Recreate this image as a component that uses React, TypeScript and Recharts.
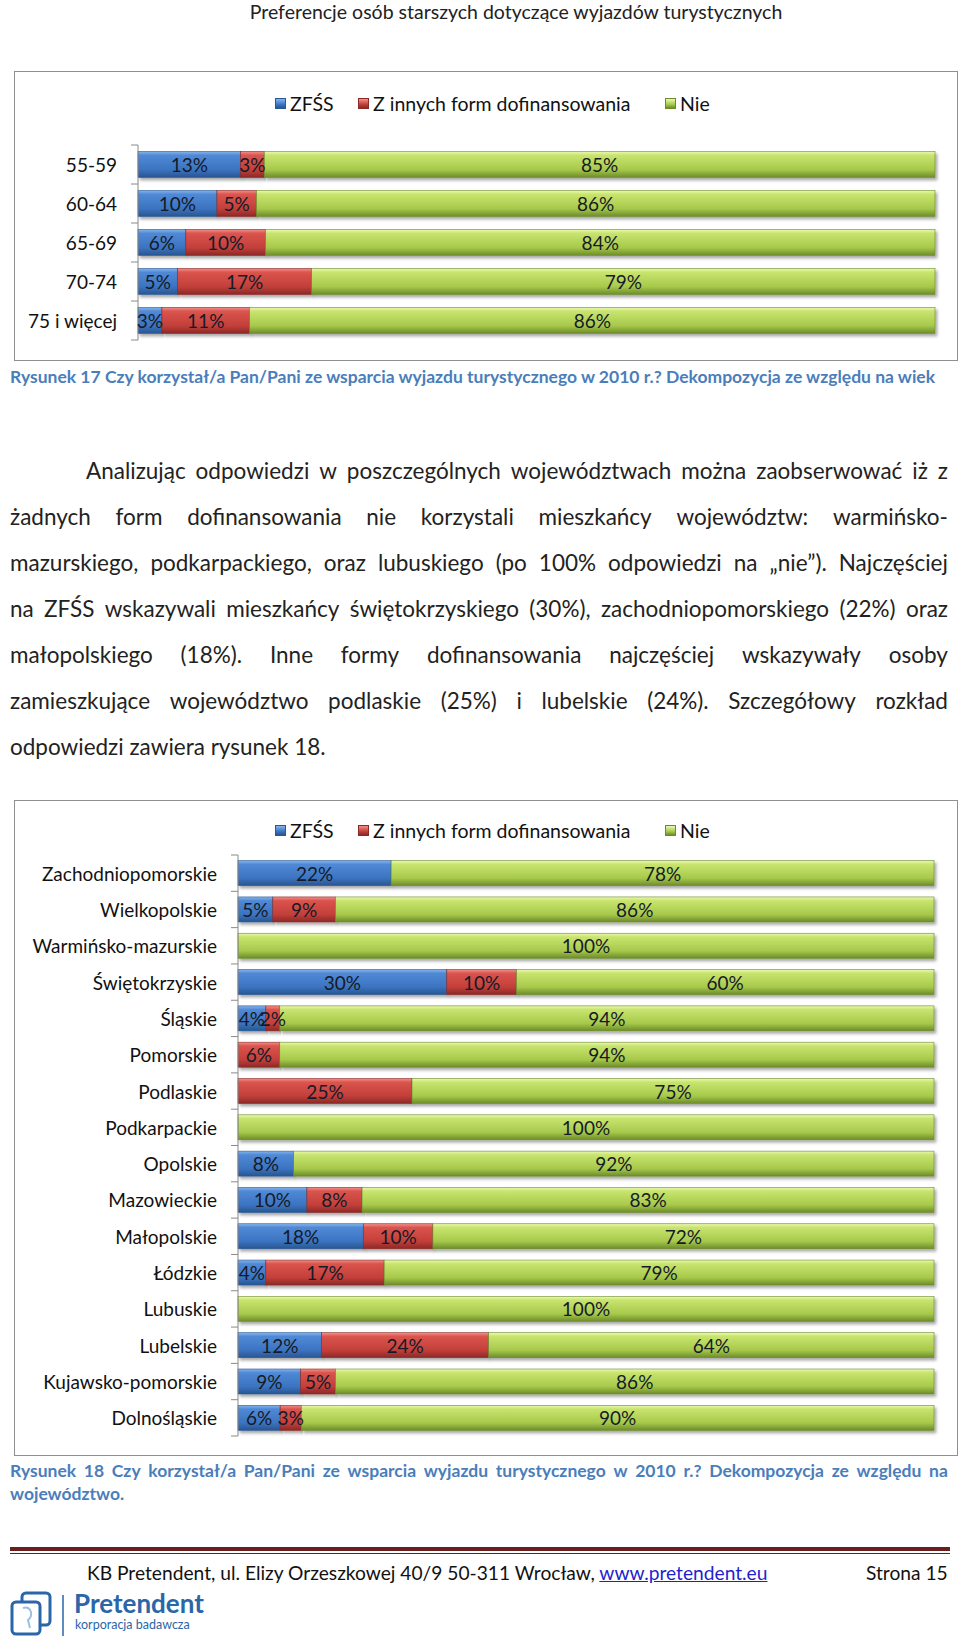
import React from "react";
import { Bar, BarChart, LabelList, XAxis, YAxis } from "recharts";

const FONT = "Lato, 'Open Sans', sans-serif";

const SERIES = ["ZFŚS", "Z innych form dofinansowania", "Nie"];

// Rysunek 17 – age groups
const AGE_GROUPS = ["55-59", "60-64", "65-69", "70-74", "75 i więcej"];
const AGE_ZFSS = [13, 10, 6, 5, 3];
const AGE_OTHER = [3, 5, 10, 17, 11];
const AGE_NO = [85, 86, 84, 79, 86];

// Rysunek 18 – regions
const REGIONS = [
  "Zachodniopomorskie",
  "Wielkopolskie",
  "Warmińsko-mazurskie",
  "Świętokrzyskie",
  "Śląskie",
  "Pomorskie",
  "Podlaskie",
  "Podkarpackie",
  "Opolskie",
  "Mazowieckie",
  "Małopolskie",
  "Łódzkie",
  "Lubuskie",
  "Lubelskie",
  "Kujawsko-pomorskie",
  "Dolnośląskie",
];
const REGION_ZFSS = [22, 5, 0, 30, 4, 0, 0, 0, 8, 10, 18, 4, 0, 12, 9, 6];
const REGION_OTHER = [0, 9, 0, 10, 2, 6, 25, 0, 0, 8, 10, 17, 0, 24, 5, 3];
const REGION_NO = [78, 86, 100, 60, 94, 94, 75, 100, 92, 83, 72, 79, 100, 64, 86, 90];

const PARAGRAPH = [
  "Analizując odpowiedzi w poszczególnych województwach można zaobserwować iż z",
  "żadnych form dofinansowania nie korzystali mieszkańcy województw: warmińsko-",
  "mazurskiego, podkarpackiego, oraz lubuskiego (po 100% odpowiedzi na „nie”). Najczęściej",
  "na ZFŚS wskazywali mieszkańcy świętokrzyskiego (30%), zachodniopomorskiego (22%) oraz",
  "małopolskiego (18%). Inne formy dofinansowania najczęściej wskazywały osoby",
  "zamieszkujące województwo podlaskie (25%) i lubelskie (24%). Szczegółowy rozkład",
  "odpowiedzi zawiera rysunek 18.",
];

const zip = (names: string[], a: number[], b: number[], c: number[]) =>
  names.map((name, i) => ({ name, zfss: a[i], other: b[i], no: c[i] }));

const ageRows = zip(AGE_GROUPS, AGE_ZFSS, AGE_OTHER, AGE_NO);
const regionRows = zip(REGIONS, REGION_ZFSS, REGION_OTHER, REGION_NO);

const GRADS = {
  blue: ["#86b5ec", "#5089d6", "#3b74c1", "#285590"],
  red: ["#f2918b", "#da544d", "#c33f3a", "#8b2926"],
  green: ["#ecf9b0", "#c8e46e", "#a7c94b", "#6c8c29"],
};
const STROKES = { blue: "#2b5893", red: "#8a2926", green: "#6b8a2c" };
const KEYS: [string, keyof typeof GRADS][] = [
  ["zfss", "blue"],
  ["other", "red"],
  ["no", "green"],
];

function Defs({ id }: { id: string }) {
  return (
    <defs>
      {Object.entries(GRADS).map(([k, c]) => (
        <linearGradient key={k} id={`${id}-${k}`} x1="0" y1="0" x2="0" y2="1">
          <stop offset="0" stopColor={c[0]} />
          <stop offset="0.15" stopColor={c[1]} />
          <stop offset="0.7" stopColor={c[2]} />
          <stop offset="1" stopColor={c[3]} />
        </linearGradient>
      ))}
      <filter id={`${id}-shadow`} x="-5%" y="-30%" width="110%" height="180%">
        <feDropShadow dx="2" dy="2.5" stdDeviation="1.5" floodColor="#000" floodOpacity="0.35" />
      </filter>
    </defs>
  );
}

interface ChartProps {
  id: string;
  rows: { name: string; zfss: number; other: number; no: number }[];
  top: number;
  axisX: number;
  plotTop: number;
  plotBottom: number;
  barEnd: number;
  gap: string;
  fontSize: number;
}

function StackedChart({ id, rows, top, axisX, plotTop, plotBottom, barEnd, gap, fontSize }: ChartProps) {
  const band = (plotBottom - plotTop) / rows.length;
  const height = plotBottom - top + 6;

  const tick = (p: any) => {
    const ax = p.x + 21;
    const ty = p.y;
    return (
      <g>
        <line x1={ax - 7} x2={ax} y1={ty - band / 2} y2={ty - band / 2} stroke="#8a8a8a" />
        {p.index === rows.length - 1 && (
          <line x1={ax - 7} x2={ax} y1={ty + band / 2} y2={ty + band / 2} stroke="#8a8a8a" />
        )}
        <text
          x={p.x}
          y={ty}
          textAnchor="end"
          dominantBaseline="central"
          fontSize={fontSize}
          fontFamily={FONT}
          fill="#111"
        >
          {p.payload.value}
        </text>
      </g>
    );
  };

  const label = (p: any) => {
    if (!p.value) return null;
    return (
      <text
        x={p.x + p.width / 2}
        y={p.y + p.height / 2}
        textAnchor="middle"
        dominantBaseline="central"
        fontSize={fontSize}
        fontFamily={FONT}
        fill="#151a28"
      >
        {p.value}%
      </text>
    );
  };

  return (
    <div style={{ position: "absolute", left: 0, top }}>
      <BarChart
        width={960}
        height={height}
        data={rows}
        layout="vertical"
        stackOffset="expand"
        barCategoryGap={gap}
        margin={{ top: plotTop - top, right: 960 - barEnd, bottom: 6, left: 0 }}
      >
        <Defs id={id} />
        <XAxis type="number" domain={[0, 1]} hide />
        <YAxis
          type="category"
          dataKey="name"
          width={axisX}
          tickSize={7}
          tickMargin={14}
          tickLine={false}
          axisLine={{ stroke: "#8a8a8a" }}
          tick={tick}
          interval={0}
        />
        {KEYS.map(([key, color], i) => (
          <Bar
            key={key}
            dataKey={key}
            name={SERIES[i]}
            stackId="a"
            isAnimationActive={false}
            shape={(s: any) =>
              s.width > 0 ? (
                <rect
                  x={s.x}
                  y={s.y}
                  width={s.width}
                  height={s.height}
                  fill={`url(#${id}-${color})`}
                  stroke={STROKES[color]}
                  strokeWidth={0.6}
                  filter={`url(#${id}-shadow)`}
                />
              ) : (
                <g />
              )
            }
          >
            <LabelList dataKey={key} content={label} />
          </Bar>
        ))}
      </BarChart>
    </div>
  );
}

function Legend({ top }: { top: number }) {
  const items: [string, keyof typeof GRADS, number][] = [
    [SERIES[0], "blue", 275],
    [SERIES[1], "red", 358],
    [SERIES[2], "green", 665],
  ];
  return (
    <>
      {items.map(([text, color, x]) => (
        <div
          key={text}
          style={{
            position: "absolute",
            left: x,
            top: top - 12,
            height: 24,
            display: "flex",
            alignItems: "center",
            fontFamily: FONT,
            fontSize: 19.5,
            color: "#111",
            whiteSpace: "nowrap",
          }}
        >
          <span
            style={{
              width: 11,
              height: 11,
              marginRight: 4,
              background: `linear-gradient(${GRADS[color][0]}, ${GRADS[color][2]} 60%, ${GRADS[color][3]})`,
              border: `1px solid ${STROKES[color]}`,
              boxSizing: "border-box",
            }}
          />
          {text}
        </div>
      ))}
    </>
  );
}

// a line spread to full width by its word gaps
function Justified({ text, style }: { text: string; style: React.CSSProperties }) {
  return (
    <div style={{ ...style, display: "flex", justifyContent: "space-between", whiteSpace: "nowrap" }}>
      {text.split(" ").map((w, i) => (
        <span key={i}>{w}</span>
      ))}
    </div>
  );
}

const caption: React.CSSProperties = {
  position: "absolute",
  left: 10,
  width: 938,
  fontFamily: FONT,
  fontWeight: 700,
  fontSize: 17.5,
  color: "#4a7ebb",
  lineHeight: "23px",
};

export default function App() {
  return (
    <div
      style={{
        position: "absolute",
        left: 0,
        top: 0,
        width: 960,
        height: 1641,
        background: "#fff",
        overflow: "hidden",
        fontFamily: FONT,
      }}
    >
      <div
        style={{
          position: "absolute",
          left: 241,
          width: 550,
          top: 0,
          height: 24,
          lineHeight: "24px",
          fontSize: 19.5,
          color: "#222",
          textAlign: "center",
          whiteSpace: "nowrap",
        }}
      >
        Preferencje osób starszych dotyczące wyjazdów turystycznych
      </div>

      {/* Rysunek 17 */}
      <div
        style={{
          position: "absolute",
          left: 14,
          top: 71,
          width: 944,
          height: 290,
          border: "1.5px solid #8f8f8f",
          boxSizing: "border-box",
        }}
      />
      <Legend top={103} />
      <StackedChart
        id="age"
        rows={ageRows}
        top={140}
        axisX={138}
        plotTop={145}
        plotBottom={340}
        barEnd={935}
        gap="16.5%"
        fontSize={19}
      />
      <div style={{ ...caption, top: 365, whiteSpace: "nowrap" }}>
        Rysunek 17 Czy korzystał/a Pan/Pani ze wsparcia wyjazdu turystycznego w 2010 r.? Dekompozycja ze względu na wiek
      </div>

      {/* paragraph */}
      {PARAGRAPH.map((line, i) => {
        const style: React.CSSProperties = {
          position: "absolute",
          left: i === 0 ? 86 : 10,
          width: i === 0 ? 862 : 938,
          top: 471 + i * 46 - 15,
          height: 30,
          lineHeight: "30px",
          fontSize: 22.5,
          color: "#222",
        };
        return i === PARAGRAPH.length - 1 ? (
          <div key={i} style={{ ...style, whiteSpace: "nowrap" }}>
            {line}
          </div>
        ) : (
          <Justified key={i} text={line} style={style} />
        );
      })}

      {/* Rysunek 18 */}
      <div
        style={{
          position: "absolute",
          left: 14,
          top: 800,
          width: 944,
          height: 656,
          border: "1.5px solid #8f8f8f",
          boxSizing: "border-box",
        }}
      />
      <Legend top={830} />
      <StackedChart
        id="reg"
        rows={regionRows}
        top={850}
        axisX={238}
        plotTop={855}
        plotBottom={1436}
        barEnd={934}
        gap="15.5%"
        fontSize={19}
      />
      <Justified
        text="Rysunek 18 Czy korzystał/a Pan/Pani ze wsparcia wyjazdu turystycznego w 2010 r.? Dekompozycja ze względu na"
        style={{ ...caption, top: 1459 }}
      />
      <div style={{ ...caption, top: 1482 }}>województwo.</div>

      {/* footer */}
      <div style={{ position: "absolute", left: 10, top: 1547, width: 940, height: 4, background: "#6a1f1f" }} />
      <div style={{ position: "absolute", left: 10, top: 1553, width: 940, height: 1, background: "#6a1f1f" }} />
      <div
        style={{
          position: "absolute",
          left: 87,
          top: 1562,
          height: 22,
          lineHeight: "22px",
          fontSize: 19.2,
          color: "#111",
          whiteSpace: "nowrap",
        }}
      >
        KB Pretendent, ul. Elizy Orzeszkowej 40/9 50-311 Wrocław,{" "}
        <span style={{ color: "#1f1fd0", textDecoration: "underline" }}>www.pretendent.eu</span>
      </div>
      <div
        style={{
          position: "absolute",
          left: 866,
          top: 1562,
          height: 22,
          lineHeight: "22px",
          fontSize: 19.2,
          color: "#111",
          whiteSpace: "nowrap",
        }}
      >
        Strona 15
      </div>
      <svg style={{ position: "absolute", left: 8, top: 1590 }} width={62} height={50}>
        <rect x={14} y={3} width={28} height={32} rx={4} fill="none" stroke="#2a66a8" strokeWidth={3} />
        <rect x={4} y={12} width={28} height={32} rx={4} fill="#fff" stroke="#2a66a8" strokeWidth={3} />
        <path d="M15 18 q6 -2 8 4 q1 5 -3 8 l2 8" fill="none" stroke="#9cbfe2" strokeWidth={2} />
        <line x1={55} y1={5} x2={55} y2={46} stroke="#2a66a8" strokeWidth={1.5} />
      </svg>
      <div
        style={{
          position: "absolute",
          left: 74,
          top: 1590,
          fontSize: 26,
          fontWeight: 700,
          color: "#2a66a8",
          lineHeight: "26px",
        }}
      >
        Pretendent
      </div>
      <div
        style={{
          position: "absolute",
          left: 75,
          top: 1617,
          fontSize: 12.5,
          color: "#2a66a8",
          lineHeight: "16px",
        }}
      >
        korporacja badawcza
      </div>
    </div>
  );
}
